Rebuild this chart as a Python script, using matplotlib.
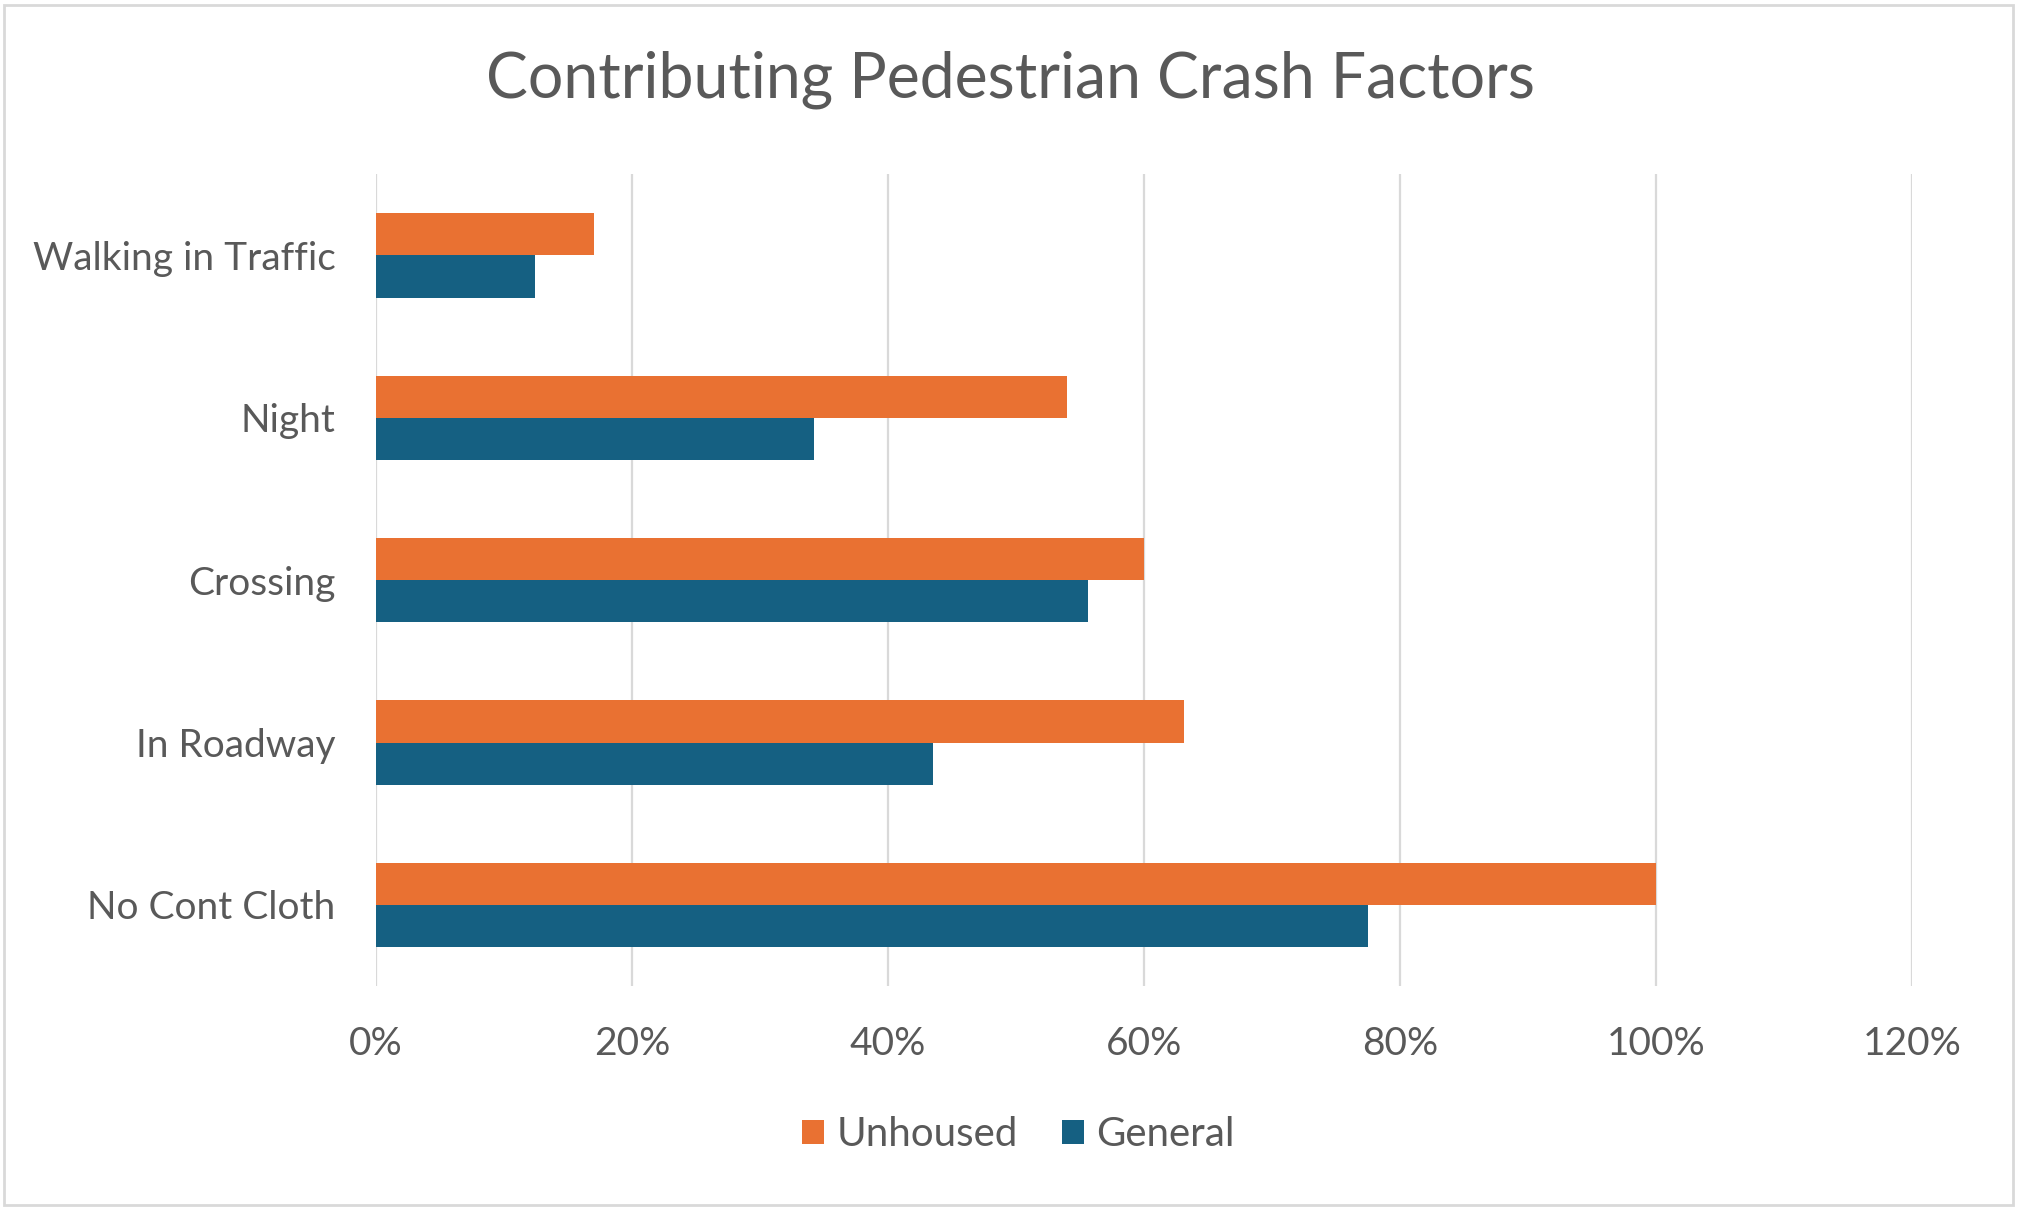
import numpy as np
import matplotlib
matplotlib.use("Agg")
import matplotlib.pyplot as plt
from matplotlib.patches import Rectangle
from matplotlib.ticker import PercentFormatter

plt.rcParams['font.family'] = ['Lato', 'DejaVu Sans']

# data (fractions)
categories = ["Walking in Traffic", "Night", "Crossing", "In Roadway", "No Cont Cloth"]
unhoused = [0.170, 0.540, 0.600, 0.631, 1.000]
general = [0.124, 0.342, 0.556, 0.435, 0.775]
x_ticks = [0, 0.2, 0.4, 0.6, 0.8, 1.0, 1.2]

c_unhoused = "#E97132"
c_general = "#156082"
txt = "#595959"
grid_c = "#D9D9D9"

fig = plt.figure(figsize=(20.21, 12.10), dpi=100)
ax = fig.add_axes([0.186, 0.185, 0.760, 0.671])

y = np.arange(len(categories))
h = 0.26
ax.barh(y - h / 2, unhoused, height=h, color=c_unhoused, label="Unhoused", zorder=3)
ax.barh(y + h / 2, general, height=h, color=c_general, label="General", zorder=3)

ax.set_xlim(0, 1.2)
ax.set_ylim(len(categories) - 0.5, -0.5)
ax.set_xticks(x_ticks)
ax.xaxis.set_major_formatter(PercentFormatter(1.0, decimals=0))
ax.set_yticks(y)
ax.set_yticklabels(categories)
ax.tick_params(axis='both', length=0, labelsize=28, colors=txt)
ax.tick_params(axis='y', pad=29)
ax.tick_params(axis='x', pad=29)
ax.grid(axis='x', color=grid_c, linewidth=1.6, zorder=0)
for s in ax.spines.values():
    s.set_visible(False)

fig.suptitle("Contributing Pedestrian Crash Factors", y=0.934, va='center', fontsize=45, color=txt)

leg = fig.legend(loc='center', bbox_to_anchor=(0.504, 0.062), ncol=2, frameon=False,
                 fontsize=29, handlelength=0.55, handleheight=0.55, handletextpad=0.3,
                 columnspacing=1.1, labelcolor=txt)

fig.patches.append(Rectangle((0.002, 0.004), 0.994, 0.992, transform=fig.transFigure,
                             fill=False, edgecolor=grid_c, linewidth=2))

fig.savefig("out.png", dpi=100)
